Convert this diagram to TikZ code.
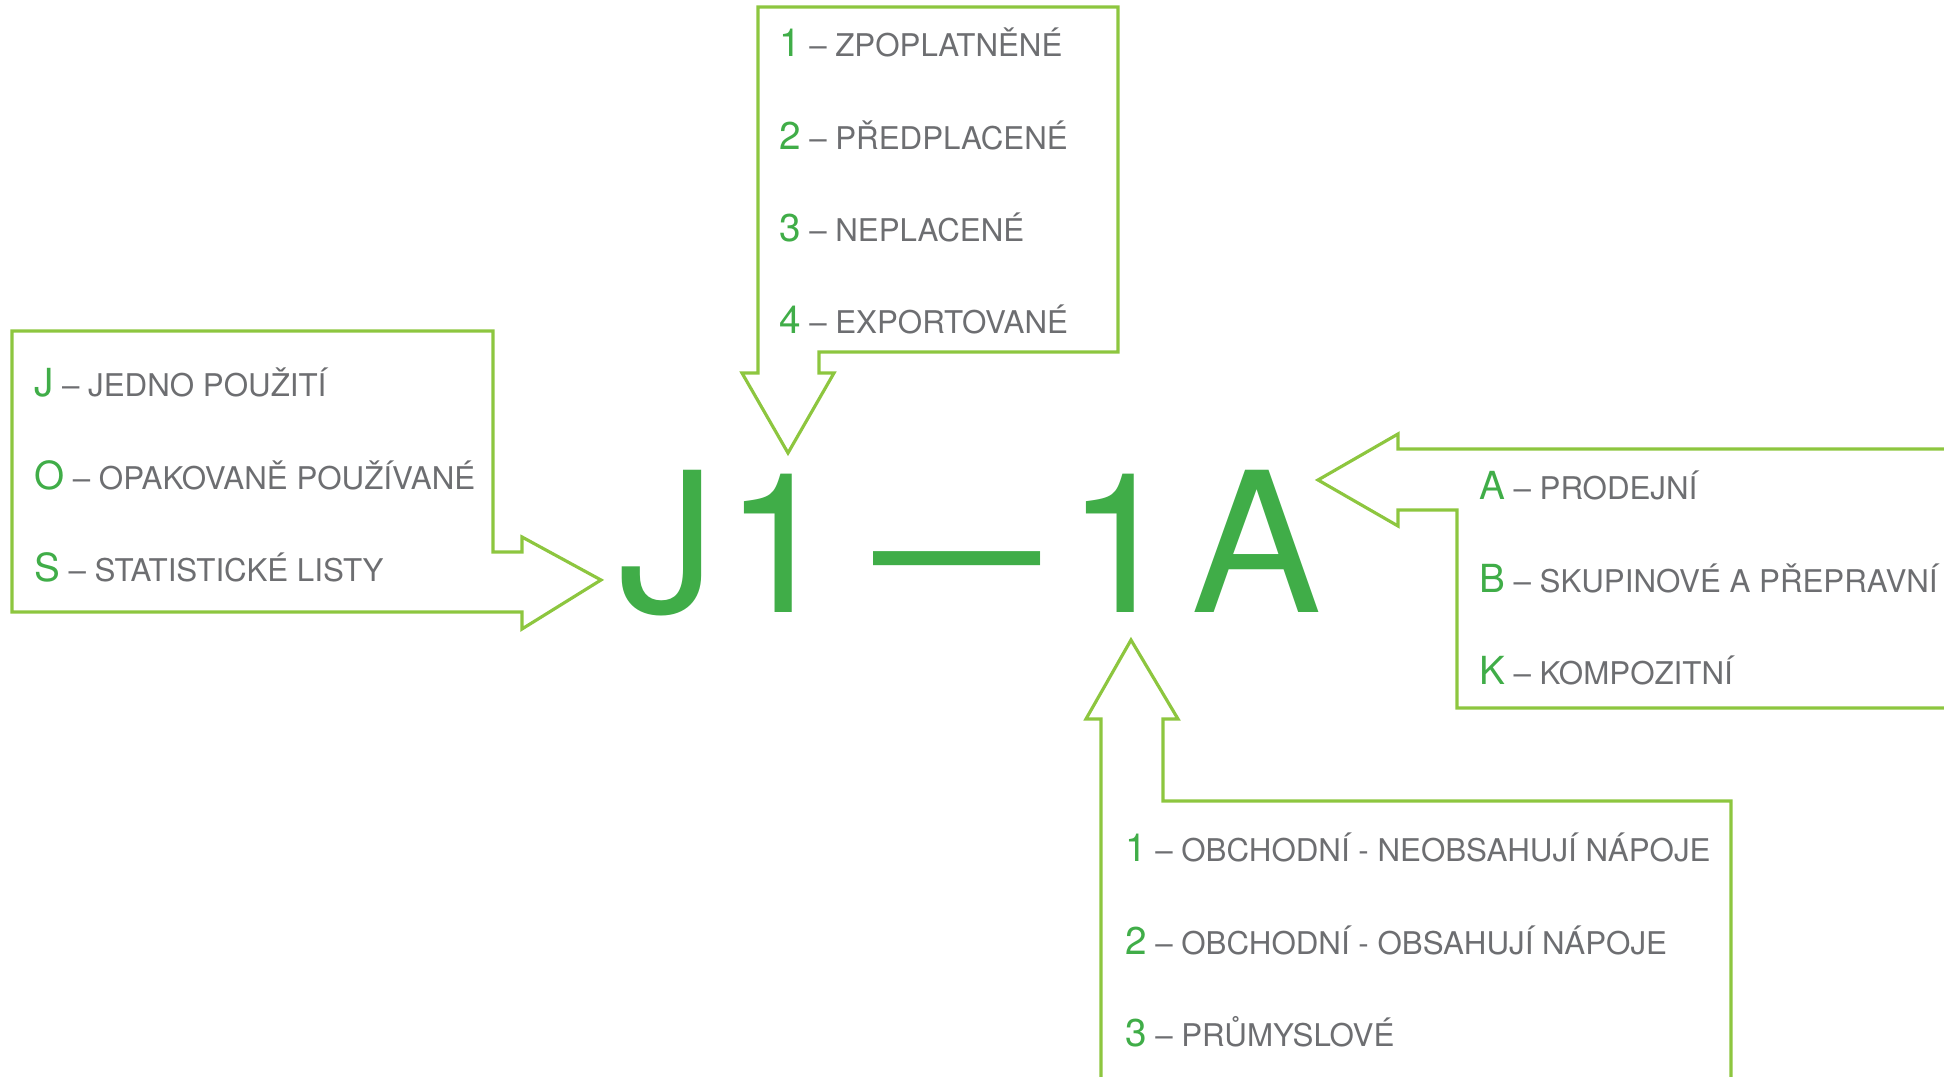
\documentclass[tikz,border=0pt]{standalone}
\usepackage{fontspec}
\setmainfont{TeX Gyre Heros}
\usetikzlibrary{positioning}
\definecolor{boxgreen}{HTML}{8DC63F}
\definecolor{codegreen}{HTML}{40AD48}
\definecolor{itemgray}{HTML}{6D6E71}
\newcommand{\polozka}[2]{{\color{codegreen}\fontsize{11pt}{12pt}\selectfont #1} – #2}

\begin{document}
\begin{tikzpicture}[x=0.01cm,y=-0.01cm,semithick]
		\tikzstyle{every node}=[inner sep=0pt,anchor=base west,text=itemgray,font=\fontsize{8.9pt}{10pt}\selectfont]
		\tikzstyle{callout}=[draw=boxgreen,line width=0.9pt,line join=miter]
		\useasboundingbox (0,0) rectangle (1944,1077);
		\clip (0,0) rectangle (1944,1077);
		% callouts
		\draw[callout] (12,331) -- (493,331) -- (493,552) -- (522,552) -- (522,537) -- (601,580) -- (522,629) -- (522,612) -- (12,612) -- cycle;
		\draw[callout] (758,7) -- (1118,7) -- (1118,352) -- (819,352) -- (819,373) -- (834,373) -- (788,453) -- (742,373) -- (758,373) -- cycle;
		\draw[callout] (1960,449) -- (1398,449) -- (1398,434) -- (1318,480) -- (1398,526) -- (1398,510) -- (1457,510) -- (1457,708) -- (1960,708);
		\draw[callout] (1101,1090) -- (1101,719) -- (1086,719) -- (1131,640) -- (1178,719) -- (1163,719) -- (1163,801) -- (1731,801) -- (1731,1090);
		% code
		\node (kod) at (617,613) [text=codegreen,font=\fontsize{55.5pt}{60pt}\selectfont] {J\kern2.4pt1\kern11.5pt\scalebox{0.856}[1]{—}\kern7.4pt1\kern4.8ptA};
		% left
		\node (j) at (33,397) {\polozka{J}{JEDNO POUŽITÍ}};
		\node (o) [below=0.92cm of j.base west,anchor=base west] {\polozka{O}{OPAKOVANĚ POUŽÍVANÉ}};
		\node (s) [below=0.92cm of o.base west,anchor=base west] {\polozka{S}{STATISTICKÉ LISTY}};
		% top
		\node (t1) at (778,57) {\polozka{1}{ZPOPLATNĚNÉ}};
		\node (t2) [below=0.92cm of t1.base west,anchor=base west] {\polozka{2}{PŘEDPLACENÉ}};
		\node (t3) [below=0.92cm of t2.base west,anchor=base west] {\polozka{3}{NEPLACENÉ}};
		\node (t4) [below=0.92cm of t3.base west,anchor=base west] {\polozka{4}{EXPORTOVANÉ}};
		% right
		\node (a) at (1478,500) {\polozka{A}{PRODEJNÍ}};
		\node (b) [below=0.92cm of a.base west,anchor=base west] {\polozka{B}{SKUPINOVÉ A PŘEPRAVNÍ}};
		\node (k) [below=0.92cm of b.base west,anchor=base west] {\polozka{K}{KOMPOZITNÍ}};
		% bottom
		\node (b1) at (1124,862) {\polozka{1}{OBCHODNÍ - NEOBSAHUJÍ NÁPOJE}};
		\node (b2) [below=0.92cm of b1.base west,anchor=base west] {\polozka{2}{OBCHODNÍ - OBSAHUJÍ NÁPOJE}};
		\node (b3) [below=0.92cm of b2.base west,anchor=base west] {\polozka{3}{PRŮMYSLOVÉ}};
\end{tikzpicture}
\end{document}
